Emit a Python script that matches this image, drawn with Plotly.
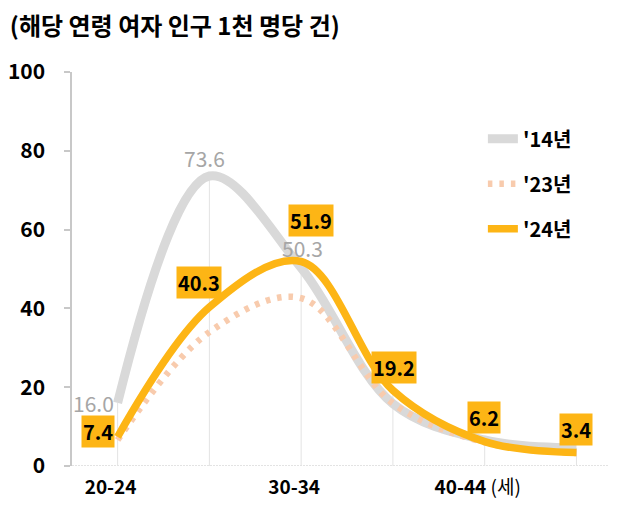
import plotly.graph_objects as go

categories = ["20-24", "25-29", "30-34", "35-39", "40-44", "45-49"]
tick_labels = ["<b>20-24</b>", "", "<b>30-34</b>", "", "<b>40-44</b> (세)", ""]
y14 = [16.0, 73.6, 50.3, 15.8, 6.6, 4.6]
y23 = [6.6, 34.0, 42.6, 15.9, 6.0, 3.3]
y24 = [7.4, 40.3, 51.9, 19.2, 6.2, 3.4]
series_names = ["'14년", "'23년", "'24년"]
y_ticks = [0, 20, 40, 60, 80, 100]

FONT = "Noto Sans CJK KR"
xs = list(range(len(categories)))

fig = go.Figure()

# drop lines from the highest point to the axis
for i in xs:
    top = max(y14[i], y23[i], y24[i])
    fig.add_shape(type="line", xref="x", yref="y", x0=i, x1=i, y0=0, y1=top,
                  line=dict(color="#E3E3E3", width=1), layer="below")

# dotted x axis line
fig.add_shape(type="line", xref="paper", yref="y", x0=0, x1=1, y0=0, y1=0,
              line=dict(color="#C8C8C8", width=1.2, dash="2px,1px"), layer="below")

fig.add_trace(go.Scatter(x=xs, y=y14, name=f"<b>{series_names[0]}</b>", mode="lines",
                         line=dict(color="#D9D9D9", width=9, shape="spline", smoothing=1.0),
                         legendgroup="a"))
fig.add_trace(go.Scatter(x=xs, y=y23, name=f"<b>{series_names[1]}</b>", mode="lines",
                         line=dict(color="#F8CBAD", width=6.5, shape="spline", smoothing=1.0,
                                   dash="4.5px,7px"),
                         legendgroup="b"))
fig.add_trace(go.Scatter(x=xs, y=y24, name=f"<b>{series_names[2]}</b>", mode="lines",
                         line=dict(color="#FDB515", width=7.5, shape="spline", smoothing=1.0),
                         legendgroup="c"))

# '14 labels (first three points)
offs14 = [(-24, 0), (-5, 18), (1, 20)]
for i, (dx, dy) in enumerate(offs14):
    fig.add_annotation(x=i, y=y14[i], text=f"{y14[i]:.1f}", showarrow=False,
                       xshift=dx, yshift=dy,
                       font=dict(family=FONT, size=21, color="#A6A6A6"))

# '24 labels
offs24 = [(-20, 5), (-10, 25), (10, 41), (1, 23), (-1, 24), (0, 23)]
for i, (dx, dy) in enumerate(offs24):
    fig.add_annotation(x=i, y=y24[i], text=f"<b>{y24[i]:.1f}</b>", showarrow=False,
                       xshift=dx, yshift=dy, bgcolor="#FDB515", borderpad=1,
                       font=dict(family=FONT, size=20, color="#000000"))

fig.update_layout(
    width=617, height=511,
    margin=dict(l=59, r=0, t=64, b=53),
    paper_bgcolor="white", plot_bgcolor="white",
    font=dict(family=FONT, color="#000000"),
    title=dict(text="<b>(해당 연령 여자 인구 1천 명당 건)</b>", x=0.003, xanchor="left",
               y=1 - 19 / 511, yanchor="middle",
               font=dict(family=FONT, size=24, color="#000000")),
    showlegend=True,
    legend=dict(x=0.743, y=0.88, xanchor="left", yanchor="top",
                font=dict(family=FONT, size=20, color="#000000"),
                tracegroupgap=16, bgcolor="rgba(0,0,0,0)", itemwidth=30),
    xaxis=dict(range=[-0.497, 5.529], tickmode="array", tickvals=xs, ticktext=tick_labels,
               showgrid=False, zeroline=False, showline=False, ticks="",
               tickfont=dict(family=FONT, size=19, color="#000000"),
               ticklabelstandoff=8, ticklabelshift=-7),
    yaxis=dict(range=[0, 100], tickmode="array", tickvals=y_ticks,
               ticktext=[f"<b>{v}</b>" for v in y_ticks],
               showgrid=False, zeroline=False, showline=True, linecolor="#C8C8C8",
               linewidth=1.5, ticks="outside", ticklen=6, tickcolor="#C8C8C8",
               tickwidth=1.5, ticklabelstandoff=15,
               tickfont=dict(family=FONT, size=21, color="#000000")),
)

fig.write_html("out.html")
